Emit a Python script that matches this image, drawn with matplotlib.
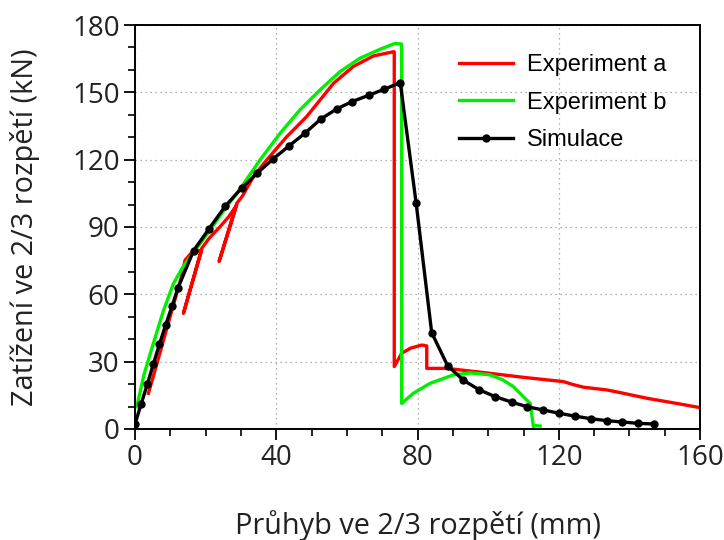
import numpy as np
import matplotlib.pyplot as plt
from matplotlib.ticker import MultipleLocator

# Experiment a (red)
exp_a_x = [3.8, 6.0, 8.5, 11.0, 13.0, 14.2, 16.0, 18.9, 13.7, 18.9, 21.0, 24.0, 26.5, 28.8, 23.8, 28.8,
           30.5, 33.5, 37.3, 43.0, 48.6, 56.2, 61.8, 67.5, 73.2, 73.4, 73.4, 75.5, 78.0, 81.2, 82.6, 82.6,
           88.3, 100.5, 110.0, 121.3, 124.0, 127.0, 133.6, 138.0, 144.9, 154.4, 160.0]
exp_a_y = [15.9, 28.0, 42.0, 56.0, 67.0, 75.3, 78.5, 79.8, 51.5, 80.5, 85.0, 90.0, 94.5, 99.8, 74.6, 100.5,
           104.0, 112.4, 119.9, 130.3, 139.2, 154.0, 161.5, 166.2, 168.1, 168.0, 27.8, 33.7, 36.0, 37.4, 37.0, 27.0,
           27.0, 24.8, 23.0, 21.1, 19.8, 18.6, 17.4, 16.0, 13.7, 11.1, 9.5]

# Experiment b (green)
exp_b_x = [0.5, 2.5, 5.2, 8.0, 10.9, 13.5, 16.5, 20.0, 25.0, 30.2, 35.4, 41.1, 46.7, 52.4, 58.1, 63.7,
           69.4, 73.6, 75.5, 75.5, 78.8, 83.5, 90.1, 95.0, 100.5, 104.0, 107.1, 110.9, 111.9, 112.8, 113.5, 114.7]
exp_b_y = [9.9, 24.0, 38.2, 52.5, 64.9, 72.0, 78.5, 86.0, 97.0, 108.0, 119.9, 131.8, 142.2, 151.1, 159.3, 165.2,
           169.2, 171.8, 171.5, 11.4, 15.9, 20.3, 24.1, 25.0, 24.1, 22.0, 18.9, 12.9, 11.4, 1.0, 1.5, 1.3]

# Simulace (black)
sim_x = [0.0, 1.7, 3.5, 5.2, 6.9, 8.7, 10.5, 12.2, 16.6, 21.0, 25.6, 30.2, 34.6, 39.0, 43.6, 48.1,
         52.6, 57.1, 61.5, 66.2, 70.6, 75.1, 79.6, 84.0, 88.5, 93.0, 97.5, 102.0, 106.6, 111.0, 115.5,
         120.1, 124.6, 129.0, 133.6, 138.0, 142.5, 147.0]
sim_y = [2.2, 11.0, 20.0, 29.0, 37.7, 46.5, 54.8, 63.0, 79.5, 89.3, 99.4, 107.3, 114.0, 120.2, 126.1, 131.8,
         138.1, 142.6, 145.9, 148.7, 151.4, 154.3, 100.6, 42.9, 28.2, 21.7, 17.4, 14.4, 12.0, 9.9, 8.5,
         7.0, 5.7, 4.6, 3.7, 3.1, 2.5, 2.2]

fig = plt.figure(figsize=(7.24, 5.4), dpi=100)
ax = fig.add_axes([0.1865, 0.2056, 0.7805, 0.7481])

ax.plot(exp_a_x, exp_a_y, color="#ff0000", lw=2.4, label="Experiment a", solid_joinstyle="round")
ax.plot(exp_b_x, exp_b_y, color="#00ee00", lw=2.4, label="Experiment b", solid_joinstyle="round")
ax.plot(sim_x, sim_y, color="black", lw=2.4, marker="o", ms=5, label="Simulace")

ax.set_xlim(0, 160)
ax.set_ylim(0, 180)
ax.xaxis.set_major_locator(MultipleLocator(40))
ax.xaxis.set_minor_locator(MultipleLocator(10))
ax.yaxis.set_major_locator(MultipleLocator(30))
ax.yaxis.set_minor_locator(MultipleLocator(10))
ax.grid(True, which="major", color="#999999", linestyle=(0, (1, 3)), lw=0.9)

ax.tick_params(which="major", direction="out", length=8, width=1.3, labelsize=20, pad=3,
               labelcolor="#222222")
ax.tick_params(which="minor", direction="out", length=5, width=1.2)
for lab in ax.get_xticklabels() + ax.get_yticklabels():
    lab.set_fontfamily("Open Sans")
for s in ax.spines.values():
    s.set_linewidth(1.4)

ax.set_xlabel("Průhyb ve 2/3 rozpětí (mm)", fontsize=20.8, family="Open Sans",
              labelpad=27, color="#222222")
ax.set_ylabel("Zatížení ve 2/3 rozpětí (kN)", fontsize=20.8, family="Open Sans",
              labelpad=23, color="#222222")

ax.legend(loc="upper left", frameon=False, handlelength=2.3, handletextpad=0.6,
          prop={"family": "Liberation Sans", "size": 17}, bbox_to_anchor=(0.573, 0.928),
          borderpad=0, borderaxespad=0, labelspacing=0.66)

plt.savefig("out.png", dpi=100)
